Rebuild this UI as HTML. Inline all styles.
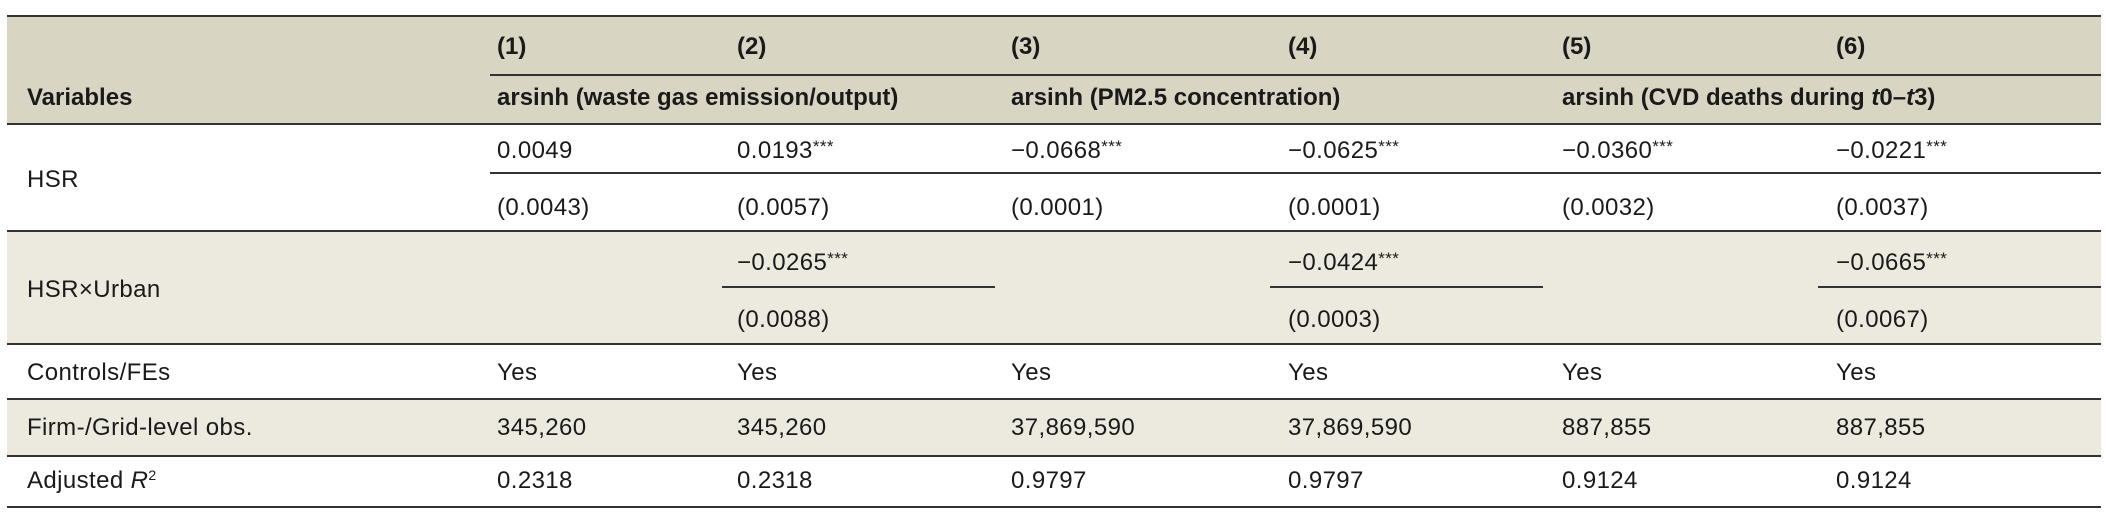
<!DOCTYPE html>
<html><head><meta charset="utf-8"><style>
body{margin:0;width:2108px;height:514px;background:#fff;position:relative;overflow:hidden;font-family:"Liberation Sans",sans-serif;color:#1a1a1a}
.b{position:absolute;left:7px;width:2094px}
.l{position:absolute;height:2px;background:#333}
.t{position:absolute;font-size:24px;white-space:nowrap;line-height:1;transform:translateY(-50%);letter-spacing:0.4px}
.h{font-weight:bold;letter-spacing:0}
sup{font-size:17px;vertical-align:6px;line-height:0}
</style></head><body>
<div class="b" style="top:16px;height:108px;background:#d9d5c3"></div>
<div class="b" style="top:231px;height:113px;background:#ece9df"></div>
<div class="b" style="top:399px;height:57px;background:#ece9df"></div>

<div class="l" style="left:7px;width:2094px;top:15px"></div>
<div class="l" style="left:490px;width:1611px;top:74px"></div>
<div class="l" style="left:7px;width:2094px;top:123px"></div>
<div class="l" style="left:490px;width:1611px;top:172px;height:1.5px"></div>
<div class="l" style="left:7px;width:2094px;top:230px"></div>
<div class="l" style="left:722px;width:273px;top:286px;height:1.5px"></div>
<div class="l" style="left:1270px;width:273px;top:286px;height:1.5px"></div>
<div class="l" style="left:1818px;width:283px;top:286px;height:1.5px"></div>
<div class="l" style="left:7px;width:2094px;top:343px"></div>
<div class="l" style="left:7px;width:2094px;top:398px"></div>
<div class="l" style="left:7px;width:2094px;top:455px"></div>
<div class="l" style="left:7px;width:2094px;top:506px"></div>

<div class="t h" style="left:497px;top:47px">(1)</div>
<div class="t h" style="left:737px;top:47px">(2)</div>
<div class="t h" style="left:1011px;top:47px">(3)</div>
<div class="t h" style="left:1288px;top:47px">(4)</div>
<div class="t h" style="left:1562px;top:47px">(5)</div>
<div class="t h" style="left:1836px;top:47px">(6)</div>
<div class="t h" style="left:27px;top:98px">Variables</div>
<div class="t h" style="left:497px;top:98px">arsinh (waste gas emission/output)</div>
<div class="t h" style="left:1011px;top:98px">arsinh (PM2.5 concentration)</div>
<div class="t h" style="left:1562px;top:98px">arsinh (CVD deaths during <i>t</i>0–<i>t</i>3)</div>

<div class="t" style="left:27px;top:180px">HSR</div>
<div class="t" style="left:497px;top:151px">0.0049</div>
<div class="t" style="left:737px;top:151px">0.0193<sup>***</sup></div>
<div class="t" style="left:1011px;top:151px">−0.0668<sup>***</sup></div>
<div class="t" style="left:1288px;top:151px">−0.0625<sup>***</sup></div>
<div class="t" style="left:1562px;top:151px">−0.0360<sup>***</sup></div>
<div class="t" style="left:1836px;top:151px">−0.0221<sup>***</sup></div>
<div class="t" style="left:497px;top:208px">(0.0043)</div>
<div class="t" style="left:737px;top:208px">(0.0057)</div>
<div class="t" style="left:1011px;top:208px">(0.0001)</div>
<div class="t" style="left:1288px;top:208px">(0.0001)</div>
<div class="t" style="left:1562px;top:208px">(0.0032)</div>
<div class="t" style="left:1836px;top:208px">(0.0037)</div>

<div class="t" style="left:27px;top:290px">HSR×Urban</div>
<div class="t" style="left:737px;top:263px">−0.0265<sup>***</sup></div>
<div class="t" style="left:1288px;top:263px">−0.0424<sup>***</sup></div>
<div class="t" style="left:1836px;top:263px">−0.0665<sup>***</sup></div>
<div class="t" style="left:737px;top:320px">(0.0088)</div>
<div class="t" style="left:1288px;top:320px">(0.0003)</div>
<div class="t" style="left:1836px;top:320px">(0.0067)</div>

<div class="t" style="left:27px;top:373px">Controls/FEs</div>
<div class="t" style="left:497px;top:373px">Yes</div>
<div class="t" style="left:737px;top:373px">Yes</div>
<div class="t" style="left:1011px;top:373px">Yes</div>
<div class="t" style="left:1288px;top:373px">Yes</div>
<div class="t" style="left:1562px;top:373px">Yes</div>
<div class="t" style="left:1836px;top:373px">Yes</div>

<div class="t" style="left:27px;top:428px">Firm-/Grid-level obs.</div>
<div class="t" style="left:497px;top:428px">345,260</div>
<div class="t" style="left:737px;top:428px">345,260</div>
<div class="t" style="left:1011px;top:428px">37,869,590</div>
<div class="t" style="left:1288px;top:428px">37,869,590</div>
<div class="t" style="left:1562px;top:428px">887,855</div>
<div class="t" style="left:1836px;top:428px">887,855</div>

<div class="t" style="left:27px;top:481px">Adjusted <i>R</i><sup style="font-size:14px;vertical-align:8px">2</sup></div>
<div class="t" style="left:497px;top:481px">0.2318</div>
<div class="t" style="left:737px;top:481px">0.2318</div>
<div class="t" style="left:1011px;top:481px">0.9797</div>
<div class="t" style="left:1288px;top:481px">0.9797</div>
<div class="t" style="left:1562px;top:481px">0.9124</div>
<div class="t" style="left:1836px;top:481px">0.9124</div>
</body></html>
